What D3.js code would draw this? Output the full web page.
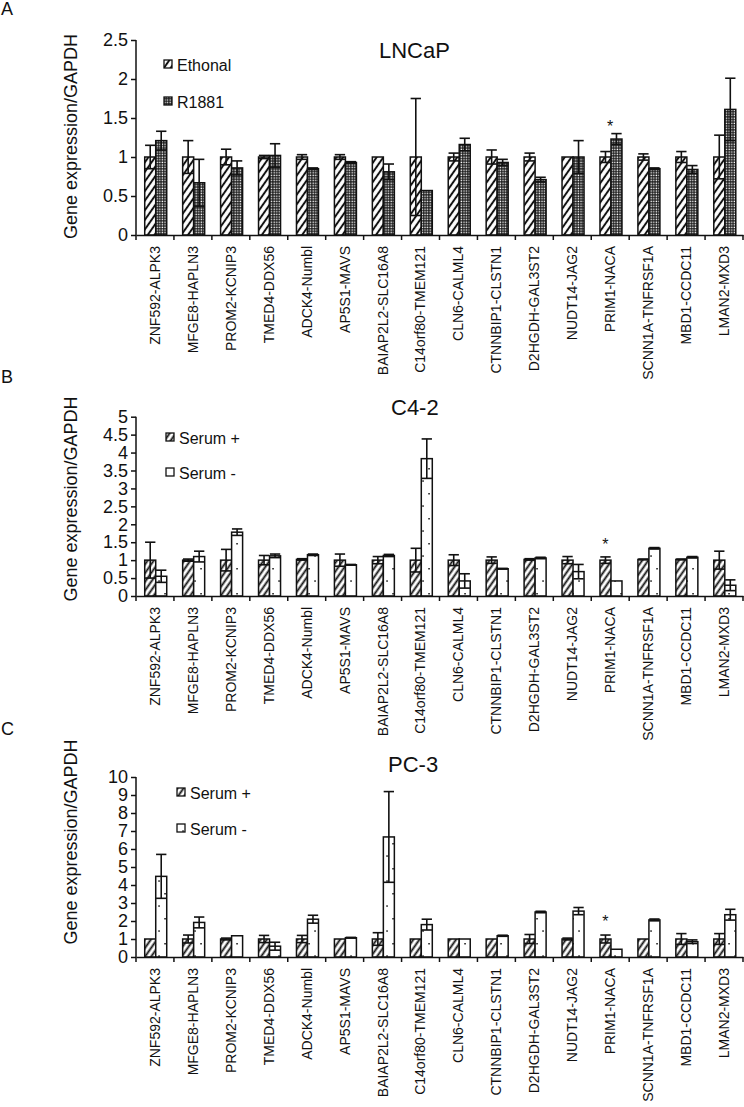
<!DOCTYPE html>
<html><head><meta charset="utf-8">
<script src="https://cdn.jsdelivr.net/npm/d3@7"></script>
<style>
body{margin:0;background:#fff}
svg{display:block}
text{font-family:"Liberation Sans",Arial,Helvetica,sans-serif;fill:#111}
</style>
</head><body>
<svg id="chart" width="744" height="1107"></svg>
<script>
// ---------- data ----------
const categories = ["ZNF592-ALPK3","MFGE8-HAPLN3","PROM2-KCNIP3","TMED4-DDX56","ADCK4-Numbl","AP5S1-MAVS","BAIAP2L2-SLC16A8","C14orf80-TMEM121","CLN6-CALML4","CTNNBIP1-CLSTN1","D2HGDH-GAL3ST2","NUDT14-JAG2","PRIM1-NACA","SCNN1A-TNFRSF1A","MBD1-CCDC11","LMAN2-MXD3"];

const lncapEthonal    = [1.00,1.00,1.00,1.00,1.00,1.00,1.00,1.00,1.00,1.00,1.00,1.00,1.00,1.00,1.00,1.00];
const lncapEthonalErr = [0.15,0.21,0.10,0.02,0.03,0.03,0.00,0.75,0.05,0.09,0.05,0.00,0.07,0.04,0.07,0.28];
const lncapR1881      = [1.21,0.67,0.86,1.02,0.85,0.93,0.81,0.57,1.16,0.93,0.71,1.00,1.23,0.85,0.84,1.61];
const lncapR1881Err   = [0.12,0.30,0.09,0.15,0.01,0.01,0.10,0.00,0.08,0.04,0.03,0.21,0.07,0.01,0.05,0.40];

const c42SerumPlus     = [1.00,1.00,1.00,1.00,1.02,1.00,1.00,1.00,1.00,1.00,1.02,1.00,1.00,1.02,1.02,1.00];
const c42SerumPlusErr  = [0.50,0.03,0.30,0.13,0.02,0.17,0.10,0.33,0.15,0.09,0.02,0.10,0.09,0.01,0.01,0.25];
const c42SerumMinus    = [0.55,1.10,1.78,1.12,1.15,0.87,1.13,3.83,0.42,0.76,1.06,0.68,0.42,1.33,1.08,0.30];
const c42SerumMinusErr = [0.17,0.15,0.09,0.05,0.02,0.01,0.03,0.55,0.20,0.01,0.02,0.20,0.00,0.02,0.02,0.15];

const pc3SerumPlus     = [1.00,1.00,1.00,1.00,1.00,1.00,1.00,1.00,1.00,1.00,1.00,1.00,1.00,1.00,1.00,1.00];
const pc3SerumPlusErr  = [0.00,0.22,0.05,0.20,0.20,0.00,0.35,0.00,0.00,0.00,0.25,0.05,0.22,0.00,0.30,0.30];
const pc3SerumMinus    = [4.48,1.92,1.18,0.60,2.10,1.07,6.67,1.80,1.00,1.18,2.50,2.55,0.43,2.06,0.85,2.35];
const pc3SerumMinusErr = [1.22,0.30,0.00,0.22,0.22,0.02,2.52,0.30,0.00,0.03,0.04,0.20,0.00,0.05,0.10,0.30];

const lncapTicks = [0,0.5,1,1.5,2,2.5];
const c42Ticks   = [0,0.5,1,1.5,2,2.5,3,3.5,4,4.5,5];
const pc3Ticks   = [0,1,2,3,4,5,6,7,8,9,10];

const lncapSeries = ["Ethonal","R1881"];
const serumSeries = ["Serum +","Serum -"];
const significantCategory = "PRIM1-NACA";

// ---------- drawing ----------
const svg = d3.select("#chart");
const defs = svg.append("defs");

function hatch(id, period, angle, sw) {
  const p = defs.append("pattern").attr("id", id).attr("patternUnits","userSpaceOnUse")
    .attr("width", period).attr("height", period).attr("patternTransform", `rotate(${angle})`);
  p.append("rect").attr("width", period).attr("height", period).attr("fill","#fff");
  p.append("line").attr("x1", period/2).attr("x2", period/2).attr("y1",0).attr("y2",period)
    .attr("stroke","#111").attr("stroke-width", sw);
}
hatch("hatchA", 5.5, 35, 2.0);
hatch("hatchB", 5, 35, 1.9);

const chk = defs.append("pattern").attr("id","checker").attr("patternUnits","userSpaceOnUse")
  .attr("width",2.6).attr("height",2.6);
chk.append("rect").attr("width",2.6).attr("height",2.6).attr("fill","#151515");
chk.append("rect").attr("x",0.5).attr("y",0.5).attr("width",1.4).attr("height",1.4).attr("fill","#fff");

const dots = defs.append("pattern").attr("id","dots").attr("patternUnits","userSpaceOnUse")
  .attr("width",12).attr("height",25);
dots.append("rect").attr("width",12).attr("height",25).attr("fill","#fff");
dots.append("rect").attr("x",2.3).attr("y",5.3).attr("width",1.5).attr("height",1.5).attr("fill","#111");
dots.append("rect").attr("x",8.3).attr("y",18).attr("width",1.5).attr("height",1.5).attr("fill","#111");

const x = d3.scaleBand().domain(categories).range([136, 743]).padding(0);

const panels = [
  { letter:"A", letterY:15, title:"LNCaP", titleX:379, titleY:58,
    domain:[0,2.5], range:[235,40], ticks:lncapTicks, yTitleY:136.5,
    names:lncapSeries, fills:["url(#hatchA)","url(#checker)"],
    values:[lncapEthonal,lncapR1881], errs:[lncapEthonalErr,lncapR1881Err],
    legendX:164, legendBase:[71,108], starMode:"center", starGap:2 },
  { letter:"B", letterY:383, title:"C4-2", titleX:391, titleY:415,
    domain:[0,5], range:[596,416.7], ticks:c42Ticks, yTitleY:499,
    names:serumSeries, fills:["url(#hatchB)","url(#dots)"],
    values:[c42SerumPlus,c42SerumMinus], errs:[c42SerumPlusErr,c42SerumMinusErr],
    legendX:166, legendBase:[444,479], starMode:"first", starGap:7 },
  { letter:"C", letterY:735, title:"PC-3", titleX:388, titleY:772,
    domain:[0,10], range:[957,777], ticks:pc3Ticks, yTitleY:842,
    names:serumSeries, fills:["url(#hatchB)","url(#dots)"],
    values:[pc3SerumPlus,pc3SerumMinus], errs:[pc3SerumPlusErr,pc3SerumMinusErr],
    legendX:177, legendBase:[799,835], starMode:"first", starGap:8 }
];

const sub = d3.scaleBand().domain([0,1]).range([x.bandwidth()*0.23, x.bandwidth()*0.81]).padding(0);

panels.forEach(P => {
  const g = svg.append("g");
  const y = d3.scaleLinear().domain(P.domain).range(P.range);
  const y0 = y(0);

  g.append("text").attr("x",1).attr("y",P.letterY).attr("font-size",18).text(P.letter);
  g.append("text").attr("x",P.titleX).attr("y",P.titleY).attr("font-size",22).text(P.title);
  g.append("text").attr("transform",`translate(77,${P.yTitleY}) rotate(-90)`)
    .attr("text-anchor","middle").attr("font-size",18).text("Gene expression/GAPDH");

  // bars
  P.values.forEach((vals, s) => {
    g.append("g").selectAll("rect").data(categories).join("rect")
      .attr("x", d => x(d) + sub(s))
      .attr("width", sub.bandwidth())
      .attr("y", (d,i) => y(vals[i]))
      .attr("height", (d,i) => y0 - y(vals[i]))
      .attr("fill", P.fills[s]).attr("stroke","#111").attr("stroke-width",1.5);
  });
  // error bars
  P.values.forEach((vals, s) => {
    const errs = P.errs[s];
    const eg = g.append("g").attr("stroke","#111").attr("stroke-width",1.6);
    categories.forEach((c,i) => {
      const e = errs[i]; if (!e) return;
      const cx = x(c) + sub(s) + sub.bandwidth()/2;
      const hw = sub.bandwidth()*0.47;
      const top = y(vals[i]+e), bot = y(Math.max(0, vals[i]-e));
      eg.append("line").attr("x1",cx).attr("x2",cx).attr("y1",top).attr("y2",bot);
      eg.append("line").attr("x1",cx-hw).attr("x2",cx+hw).attr("y1",top).attr("y2",top);
      eg.append("line").attr("x1",cx-hw).attr("x2",cx+hw).attr("y1",bot).attr("y2",bot);
    });
  });

  // asterisk
  const si = categories.indexOf(significantCategory);
  const topVal = d3.max(P.values.map((v,s) => v[si] + P.errs[s][si]));
  const sx = P.starMode === "center" ? x(significantCategory) + x.bandwidth()/2
                                     : x(significantCategory) + sub(0) + sub.bandwidth()/2;
  g.append("text").attr("x", sx).attr("y", y(topVal) - P.starGap).attr("text-anchor","middle")
    .attr("font-size",16).text("*");

  // y axis
  const ya = g.append("g").attr("transform","translate(136,0)")
    .call(d3.axisLeft(y).tickValues(P.ticks).tickFormat(d => String(d)).tickSize(5).tickPadding(3));
  ya.select(".domain").attr("stroke","#111").attr("stroke-width",1.5).attr("d",`M-0,${y0}V${y(P.domain[1])}`);
  ya.selectAll(".tick line").attr("stroke","#111").attr("stroke-width",1.5);
  ya.selectAll(".tick text").attr("font-size",18).attr("font-family","Liberation Sans, Arial, sans-serif").attr("fill","#111");

  // x axis
  const xa = g.append("g").attr("transform",`translate(0,${y0})`)
    .call(d3.axisBottom(x).tickSize(0).tickPadding(0));
  xa.select(".domain").attr("stroke","#111").attr("stroke-width",1.5);
  xa.selectAll(".tick text").attr("font-size",14).attr("font-family","Liberation Sans, Arial, sans-serif")
    .attr("fill","#111").attr("text-anchor","end")
    .attr("transform","rotate(-90)").attr("x",-11).attr("y",0).attr("dy","0.35em");
  const bounds = categories.map(c => x(c)).concat([x.range()[1]]);
  xa.append("g").selectAll("line").data(bounds).join("line")
    .attr("x1",d=>d).attr("x2",d=>d).attr("y1",0).attr("y2",5)
    .attr("stroke","#111").attr("stroke-width",1.5);

  // legend
  P.names.forEach((n, s) => {
    const b = P.legendBase[s];
    g.append("rect").attr("x",P.legendX).attr("y",b-11).attr("width",8).attr("height",8)
      .attr("fill",P.fills[s]).attr("stroke","#111").attr("stroke-width",1.3);
    g.append("text").attr("x",P.legendX+13).attr("y",b).attr("font-size",16).text(n);
  });
});
</script>
</body></html>
